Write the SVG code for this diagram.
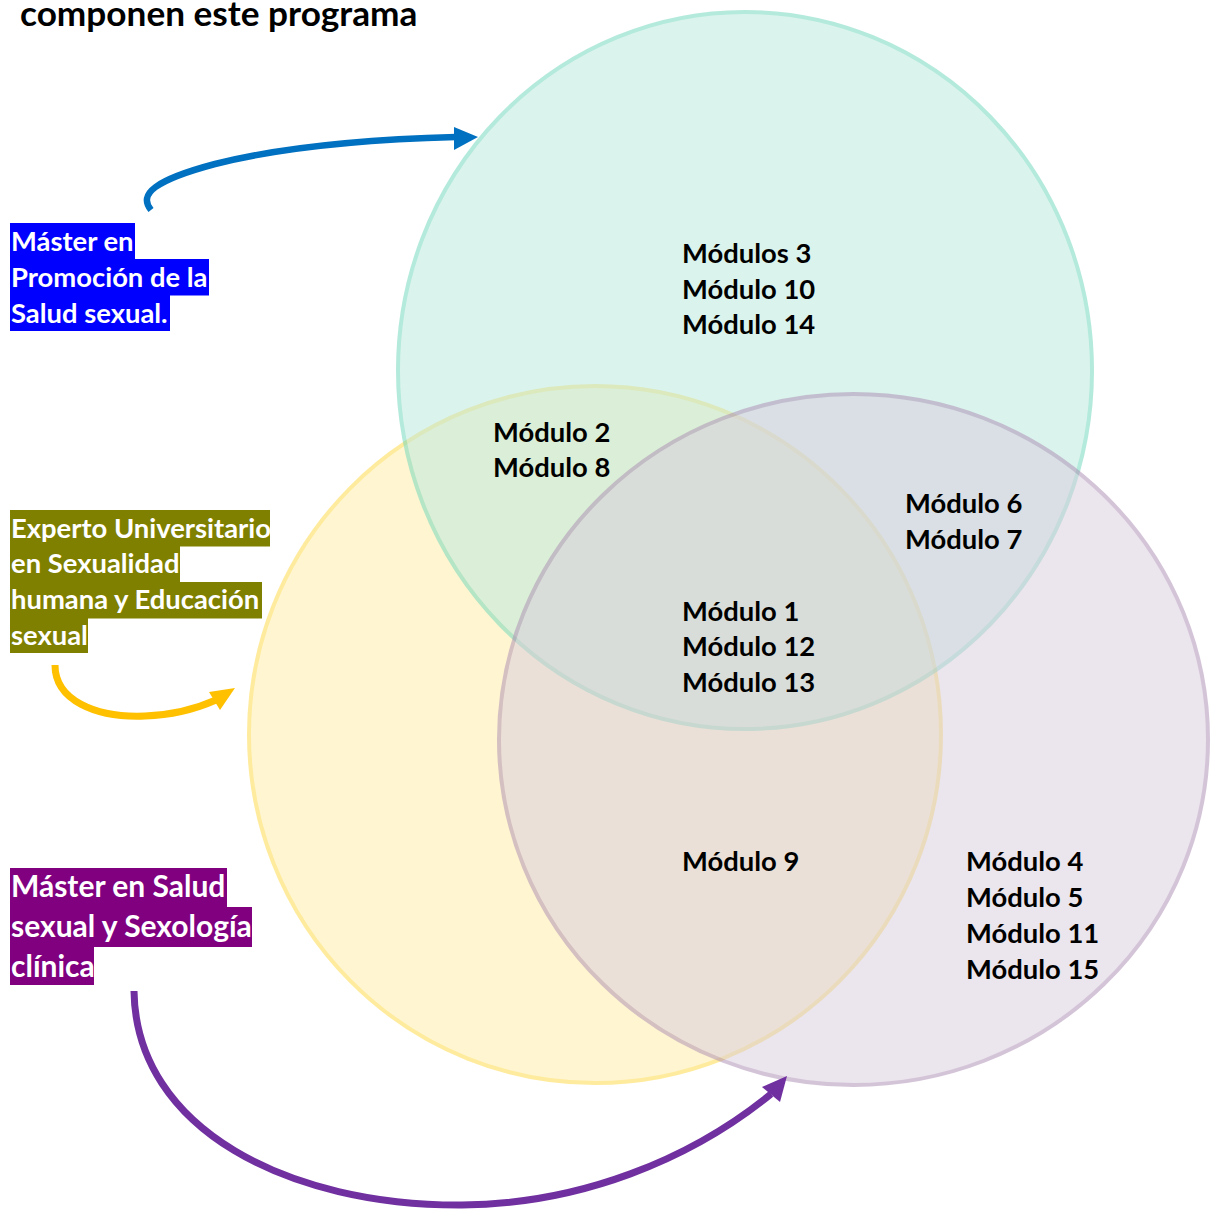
<svg xmlns="http://www.w3.org/2000/svg" width="1212" height="1209" viewBox="0 0 1212 1209">
<style>
.t{font-family:Lato,"Liberation Sans",sans-serif;font-weight:bold;}
.m{font-size:27.4px;fill:#000;}
.lab{font-size:27.4px;fill:#fff;}
.lab2{font-size:30px;fill:#fff;}
.set{opacity:0.5;stroke-width:4;}
.arr{fill:none;stroke-width:6.5;stroke-linecap:butt;}
</style>
<rect width="1212" height="1209" fill="#fff"/>
<text class="t" x="20" y="26" font-size="35.2" fill="#000">componen este programa</text>

<g id="set-experto">
<ellipse class="set" cx="595" cy="734.5" rx="346" ry="348.5" style="fill:#FFEDA5;stroke:#FFD93D"/>
</g>
<g id="set-promocion">
<ellipse class="set" cx="745" cy="370.5" rx="347" ry="358.5" style="fill:#B9E9DD;stroke:#6BD7B9"/>
</g>
<g id="set-clinica">
<ellipse class="set" cx="853.5" cy="739.5" rx="354.5" ry="345.5" style="fill:#D9CDDD;stroke:#AB8BB3"/>
</g>

<g id="region-texts">
<text class="t m"><tspan x="682" y="263">Módulos 3</tspan><tspan x="682" y="299">Módulo 10</tspan><tspan x="682" y="334">Módulo 14</tspan></text>
<text class="t m"><tspan x="493" y="442">Módulo 2</tspan><tspan x="493" y="477">Módulo 8</tspan></text>
<text class="t m"><tspan x="905" y="513">Módulo 6</tspan><tspan x="905" y="549">Módulo 7</tspan></text>
<text class="t m"><tspan x="682" y="621">Módulo 1</tspan><tspan x="682" y="656">Módulo 12</tspan><tspan x="682" y="692">Módulo 13</tspan></text>
<text class="t m"><tspan x="682" y="871">Módulo 9</tspan></text>
<text class="t m"><tspan x="966" y="871">Módulo 4</tspan><tspan x="966" y="907">Módulo 5</tspan><tspan x="966" y="943">Módulo 11</tspan><tspan x="966" y="979">Módulo 15</tspan></text>
</g>

<g id="label-promocion">
<rect x="10" y="223" width="125" height="36.5" fill="#0000FF"/>
<rect x="10" y="259" width="199" height="36.5" fill="#0000FF"/>
<rect x="10" y="295" width="160" height="36" fill="#0000FF"/>
<text class="t lab"><tspan x="11" y="250.5">Máster en</tspan><tspan x="11" y="286.5">Promoción de la</tspan><tspan x="11" y="322.5">Salud sexual.</tspan></text>
</g>

<g id="label-experto">
<rect x="10" y="510" width="260" height="36.5" fill="#808000"/>
<rect x="10" y="546" width="170" height="36.5" fill="#808000"/>
<rect x="10" y="582" width="252" height="36.5" fill="#808000"/>
<rect x="10" y="618" width="78" height="35" fill="#808000"/>
<text class="t lab"><tspan x="11" y="537.5">Experto Universitario</tspan><tspan x="11" y="573">en Sexualidad</tspan><tspan x="11" y="609">humana y Educación</tspan><tspan x="11" y="645">sexual</tspan></text>
</g>

<g id="label-clinica">
<rect x="10" y="868" width="217" height="39.5" fill="#800080"/>
<rect x="10" y="907" width="242" height="40" fill="#800080"/>
<rect x="10" y="946.5" width="84" height="38.5" fill="#800080"/>
<text class="t lab2"><tspan x="11" y="897">Máster en Salud</tspan><tspan x="11" y="937">sexual y Sexología</tspan><tspan x="11" y="976.5">clínica</tspan></text>
</g>

<g id="connectors">
<path class="arr" d="M151,210 C138,194 155,180 215,164 C290,145 380,139 456,137" stroke="#0070C0"/>
<polygon points="454,127 478,137 454,150" fill="#0070C0"/>
<path class="arr" d="M55,665 C55,700 95,718 145,716 C175,715 198,708 216,700" stroke="#FFC000" style="stroke-width:7"/>
<polygon points="209,692 235,688 220,710" fill="#FFC000"/>
<path class="arr" d="M134,991 C136,1130 290,1206 462,1205 C580,1204 690,1160 771,1094" stroke="#7030A0" style="stroke-width:7"/>
<polygon points="762,1087 787,1076 780,1102" fill="#7030A0"/>
</g>
</svg>
